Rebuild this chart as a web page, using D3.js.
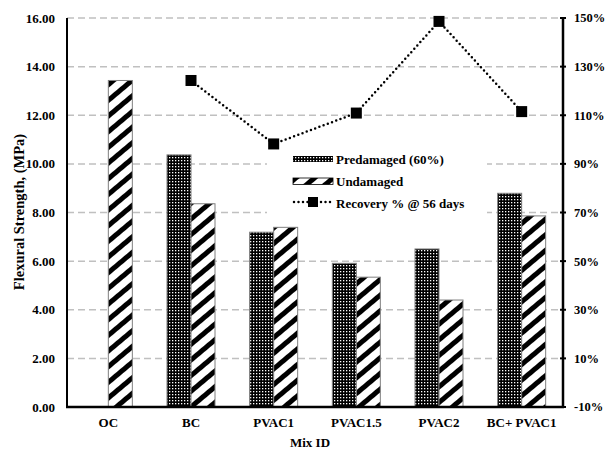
<!DOCTYPE html>
<html>
<head>
<meta charset="utf-8">
<script src="https://cdn.jsdelivr.net/npm/d3@7/dist/d3.min.js"></script>
<style>
  body { margin: 0; background: #fff; }
  text { font-family: "Liberation Serif", "Times New Roman", serif; font-weight: bold; fill: #000; }
</style>
</head>
<body>
<div id="chart-area"></div>
<script>
// values
var categories = ["OC", "BC", "PVAC1", "PVAC1.5", "PVAC2", "BC+ PVAC1"];
var predamaged = [null, 10.37, 7.19, 5.91, 6.50, 8.79];
var undamaged = [13.43, 8.36, 7.39, 5.34, 4.40, 7.86];
var recovery = [null, 124.3, 98.2, 110.9, 148.6, 111.5];
var leftTicks = [0, 2, 4, 6, 8, 10, 12, 14, 16];
var rightTicks = [-10, 10, 30, 50, 70, 90, 110, 130, 150];
var legendLabels = ["Predamaged (60%)", "Undamaged", "Recovery % @ 56 days"];

var W = 607, H = 450;
var plot = {left: 67, right: 563, top: 18, bottom: 407};

var svg = d3.select("#chart-area").append("svg").attr("width", W).attr("height", H);
var defs = svg.append("defs");

// dotted fill for predamaged
var pDot = defs.append("pattern").attr("id", "dots")
    .attr("patternUnits", "userSpaceOnUse").attr("width", 3).attr("height", 3);
pDot.append("rect").attr("width", 3).attr("height", 3).attr("fill", "#000");
pDot.append("rect").attr("x", 1).attr("y", 1).attr("width", 1.3).attr("height", 1.3).attr("fill", "#fff");

// wide upward diagonal for undamaged
var pDiag = defs.append("pattern").attr("id", "diag")
    .attr("patternUnits", "userSpaceOnUse").attr("width", 12).attr("height", 12)
    .attr("patternTransform", "rotate(-40)");
pDiag.append("rect").attr("width", 12).attr("height", 12).attr("fill", "#fff");
pDiag.append("rect").attr("width", 12).attr("height", 5).attr("fill", "#000");

var x = d3.scaleBand().domain(categories).range([plot.left, plot.right]).padding(0);
var y = d3.scaleLinear().domain([0, 16]).range([plot.bottom, plot.top]);
var y2 = d3.scaleLinear().domain([-10, 150]).range([plot.bottom, plot.top]);
var barW = 24;

// gridlines
svg.append("g").selectAll("line").data(leftTicks.slice(1)).enter().append("line")
    .attr("x1", plot.left).attr("x2", plot.right)
    .attr("y1", d => y(d)).attr("y2", d => y(d))
    .attr("stroke", "#c0c0c0").attr("stroke-width", 1.5)
    .attr("stroke-dasharray", "7,4");

// legend background hides gridlines behind it
svg.append("rect").attr("x", 267).attr("y", 142).attr("width", 220).attr("height", 78).attr("fill", "#fff");

// bars
var rows = categories.map((c, i) => ({cat: c, pre: predamaged[i], und: undamaged[i], rec: recovery[i]}));

svg.append("g").selectAll("rect").data(rows.filter(d => d.pre != null)).enter().append("rect")
    .attr("x", d => x(d.cat) + x.bandwidth() / 2 - barW)
    .attr("y", d => y(d.pre))
    .attr("width", barW)
    .attr("height", d => y(0) - y(d.pre))
    .attr("fill", "url(#dots)").attr("stroke", "#7f7f7f").attr("stroke-width", 1);

svg.append("g").selectAll("rect").data(rows).enter().append("rect")
    .attr("x", d => x(d.cat) + x.bandwidth() / 2)
    .attr("y", d => y(d.und))
    .attr("width", barW)
    .attr("height", d => y(0) - y(d.und))
    .attr("fill", "url(#diag)").attr("stroke", "#7f7f7f").attr("stroke-width", 1);

// recovery line
var recRows = rows.filter(d => d.rec != null);
var line = d3.line().x(d => x(d.cat) + x.bandwidth() / 2).y(d => y2(d.rec));
svg.append("path").datum(recRows).attr("d", line)
    .attr("fill", "none").attr("stroke", "#000").attr("stroke-width", 2.5)
    .attr("stroke-linecap", "round").attr("stroke-dasharray", "0,4.5");
svg.append("g").selectAll("rect").data(recRows).enter().append("rect")
    .attr("x", d => x(d.cat) + x.bandwidth() / 2 - 5.5)
    .attr("y", d => y2(d.rec) - 5.5)
    .attr("width", 11).attr("height", 11).attr("fill", "#000");

// axes
svg.append("line").attr("x1", plot.left).attr("x2", plot.left).attr("y1", plot.top).attr("y2", plot.bottom)
    .attr("stroke", "#000").attr("stroke-width", 2);
svg.append("line").attr("x1", plot.right).attr("x2", plot.right).attr("y1", plot.top).attr("y2", plot.bottom)
    .attr("stroke", "#000").attr("stroke-width", 2.5);
svg.append("line").attr("x1", plot.left - 1).attr("x2", plot.right + 1).attr("y1", plot.bottom).attr("y2", plot.bottom)
    .attr("stroke", "#000").attr("stroke-width", 2.5);

svg.append("g").selectAll("line").data(rightTicks).enter().append("line")
    .attr("x1", plot.right - 3).attr("x2", plot.right + 3)
    .attr("y1", d => y2(d)).attr("y2", d => y2(d))
    .attr("stroke", "#000").attr("stroke-width", 2);

svg.append("g").selectAll("text").data(leftTicks).enter().append("text")
    .attr("x", 55).attr("y", d => y(d)).attr("dy", "0.35em")
    .attr("text-anchor", "end").attr("font-size", "13px")
    .text(d => d.toFixed(2));

svg.append("g").selectAll("text").data(rightTicks).enter().append("text")
    .attr("x", 574).attr("y", d => y2(d)).attr("dy", "0.35em")
    .attr("text-anchor", "start").attr("font-size", "12.5px")
    .text(d => d + "%");

svg.append("g").selectAll("text").data(categories).enter().append("text")
    .attr("x", d => x(d) + x.bandwidth() / 2).attr("y", 427)
    .attr("text-anchor", "middle").attr("font-size", "13px")
    .text(d => d);

svg.append("text").attr("x", 310).attr("y", 447).attr("text-anchor", "middle")
    .attr("font-size", "13px").text("Mix ID");

svg.append("text").attr("transform", "translate(24,212) rotate(-90)")
    .attr("text-anchor", "middle").attr("font-size", "14.5px")
    .text("Flexural Strength, (MPa)");

// legend
var lg = svg.append("g");
lg.append("rect").attr("x", 293).attr("y", 156).attr("width", 40).attr("height", 6)
    .attr("fill", "url(#dots)");
lg.append("rect").attr("x", 293).attr("y", 178).attr("width", 40).attr("height", 6.5)
    .attr("fill", "url(#diag)").attr("stroke", "#000").attr("stroke-width", 0.8);
lg.append("line").attr("x1", 294).attr("x2", 333).attr("y1", 202).attr("y2", 202)
    .attr("stroke", "#000").attr("stroke-width", 2.5).attr("stroke-linecap", "round")
    .attr("stroke-dasharray", "0,4.5");
lg.append("rect").attr("x", 308).attr("y", 197).attr("width", 10).attr("height", 10).attr("fill", "#000");
lg.selectAll("text.lbl").data(legendLabels).enter().append("text").attr("class", "lbl")
    .attr("x", 336).attr("y", (d, i) => 159 + i * 22).attr("dy", "0.35em")
    .attr("font-size", "13px").text(d => d);
</script>
</body>
</html>
